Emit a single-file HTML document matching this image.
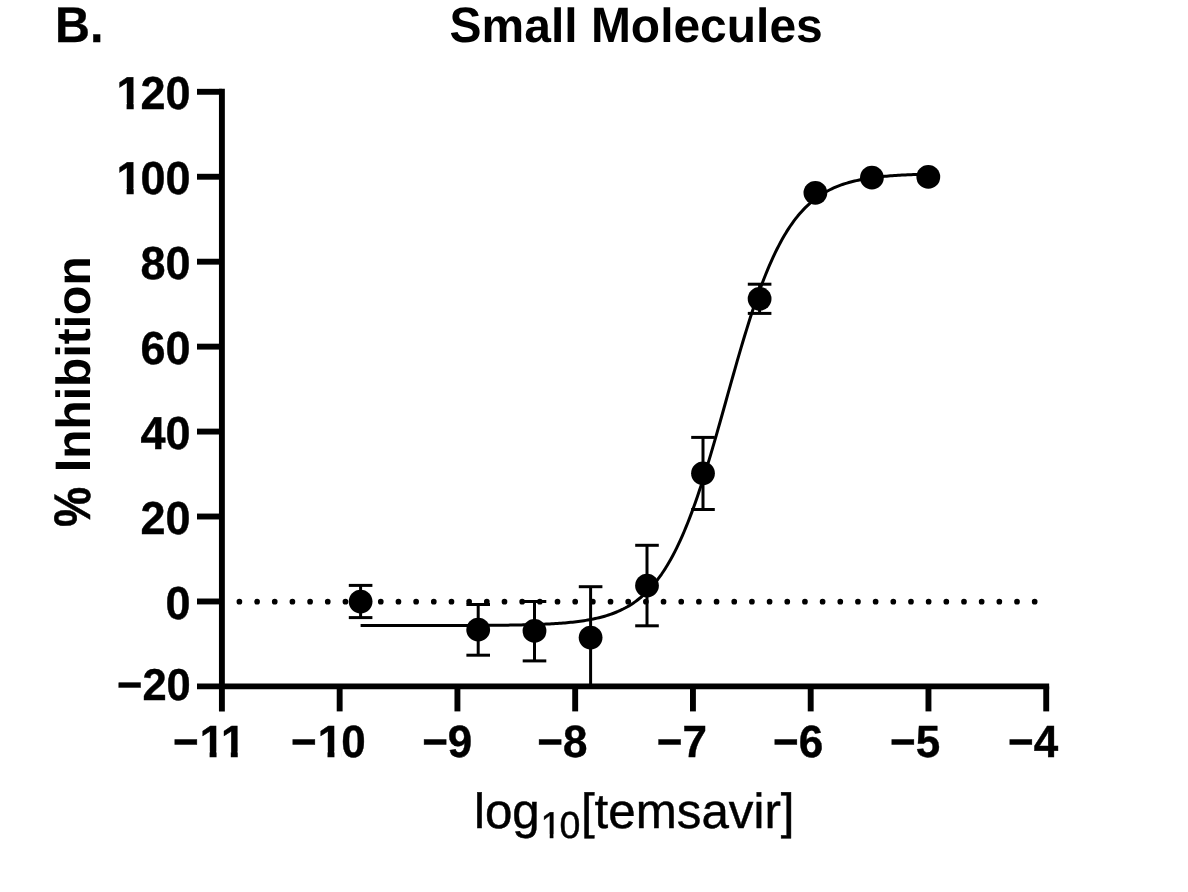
<!DOCTYPE html>
<html><head><meta charset="utf-8"><title>Small Molecules</title>
<style>
html,body{margin:0;padding:0;background:#fff;}
body{width:1188px;height:892px;overflow:hidden;}
svg{display:block;will-change:transform;}
text{font-family:"Liberation Sans",sans-serif;fill:#000;text-rendering:geometricPrecision;}
.b{font-weight:bold;}
</style></head><body>
<svg width="1188" height="892" viewBox="0 0 1188 892">
<rect width="1188" height="892" fill="#fff"/>
<text class="b" transform="translate(55.06,41.8) scale(1,1.04)" font-size="48.40" stroke="#000" stroke-width="0.3">B.</text>
<g aria-label="Small Molecules">
<text class="b" transform="translate(449.62,41.80) scale(1,1.040)" font-size="47.96">S</text>
<text class="b" transform="translate(481.61,41.80)" font-size="47.96">mall&#160;</text>
<text class="b" transform="translate(590.89,41.80) scale(1,1.040)" font-size="47.96">M</text>
<text class="b" transform="translate(630.84,41.80)" font-size="47.96">olecules</text>
</g>
<text class="b" transform="translate(90.1,526.92) rotate(-90) scale(0.94,1.07)" font-size="48.01" stroke="#000" stroke-width="0.5">%</text>
<g aria-label="Inhibition">
<text class="b" transform="translate(89.90,472.21) rotate(-90) scale(1,1.040)" font-size="48.01">I</text>
<text class="b" transform="translate(89.90,458.87) rotate(-90)" font-size="48.01">nhibition</text>
</g>
<text x="473.98" y="828.10" font-size="49.30" stroke="#000" stroke-width="0.45">log<tspan font-size="37.50" x="540.49 559.61" dy="10.0">10</tspan><tspan x="580.89" dy="-10.0">[temsavir]</tspan></text>
<g stroke="#000" stroke-width="5.90" fill="none" stroke-linecap="butt">
<path d="M221.90 88.85 V711.40"/>
<path d="M197.00 686.40 H1049.17"/>
<path d="M197.00 601.46 H221.90"/>
<path d="M197.00 516.51 H221.90"/>
<path d="M197.00 431.57 H221.90"/>
<path d="M197.00 346.63 H221.90"/>
<path d="M197.00 261.69 H221.90"/>
<path d="M197.00 176.74 H221.90"/>
<path d="M197.00 91.80 H221.90"/>
<path d="M339.66 686.40 V711.40"/>
<path d="M457.42 686.40 V711.40"/>
<path d="M575.18 686.40 V711.40"/>
<path d="M692.94 686.40 V711.40"/>
<path d="M810.70 686.40 V711.40"/>
<path d="M928.46 686.40 V711.40"/>
<path d="M1046.22 686.40 V711.40"/>
</g>
<text class="b" transform="translate(0,700.30) scale(1,1.025)" x="116.99 142.40 166.59" y="0" font-size="43.50" stroke="#000" stroke-width="0.4">−20</text>
<text class="b" transform="translate(0,618.76) scale(1,1.025)" x="165.57" y="0" font-size="45.00" stroke="#000" stroke-width="0.4">0</text>
<text class="b" transform="translate(0,533.81) scale(1,1.025)" x="140.55 165.57" y="0" font-size="45.00" stroke="#000" stroke-width="0.4">20</text>
<text class="b" transform="translate(0,448.87) scale(1,1.025)" x="140.55 165.57" y="0" font-size="45.00" stroke="#000" stroke-width="0.4">40</text>
<text class="b" transform="translate(0,363.93) scale(1,1.025)" x="140.55 165.57" y="0" font-size="45.00" stroke="#000" stroke-width="0.4">60</text>
<text class="b" transform="translate(0,278.99) scale(1,1.025)" x="140.55 165.57" y="0" font-size="45.00" stroke="#000" stroke-width="0.4">80</text>
<text class="b" transform="translate(0,194.04) scale(1,1.025)" x="116.55 140.55 165.57" y="0" font-size="45.00" stroke="#000" stroke-width="0.4">100</text>
<text class="b" transform="translate(0,109.10) scale(1,1.025)" x="116.55 140.55 165.57" y="0" font-size="45.00" stroke="#000" stroke-width="0.4">120</text>
<text class="b" transform="translate(0,757.10) scale(1,1.025)" x="173.07 199.78 220.98" y="0" font-size="44.00" stroke="#000" stroke-width="0.4">−11</text>
<text class="b" transform="translate(0,757.10) scale(1,1.025)" x="290.97 317.68 341.14" y="0" font-size="44.00" stroke="#000" stroke-width="0.4">−10</text>
<text class="b" transform="translate(0,757.10) scale(1,1.025)" x="422.17 447.87" y="0" font-size="44.00" stroke="#000" stroke-width="0.4">−9</text>
<text class="b" transform="translate(0,757.10) scale(1,1.025)" x="537.37 563.07" y="0" font-size="44.00" stroke="#000" stroke-width="0.4">−8</text>
<text class="b" transform="translate(0,757.10) scale(1,1.025)" x="656.77 682.47" y="0" font-size="44.00" stroke="#000" stroke-width="0.4">−7</text>
<text class="b" transform="translate(0,757.10) scale(1,1.025)" x="773.07 798.77" y="0" font-size="44.00" stroke="#000" stroke-width="0.4">−6</text>
<text class="b" transform="translate(0,757.10) scale(1,1.025)" x="890.07 915.77" y="0" font-size="44.00" stroke="#000" stroke-width="0.4">−5</text>
<text class="b" transform="translate(0,757.10) scale(1,1.025)" x="1008.07 1033.77" y="0" font-size="44.00" stroke="#000" stroke-width="0.4">−4</text>
<rect x="542.45" y="834.50" width="7.27" height="4.60" fill="#fff"/><rect x="553.44" y="834.50" width="6.98" height="4.60" fill="#fff"/><rect x="118.49" y="188.04" width="8.12" height="7.01" fill="#fff"/><rect x="133.68" y="188.04" width="7.55" height="7.01" fill="#fff"/><rect x="118.49" y="103.09" width="8.12" height="7.01" fill="#fff"/><rect x="133.68" y="103.09" width="7.55" height="7.01" fill="#fff"/><rect x="201.65" y="751.20" width="7.95" height="6.90" fill="#fff"/><rect x="216.54" y="751.20" width="7.39" height="6.90" fill="#fff"/><rect x="222.86" y="751.20" width="7.95" height="6.90" fill="#fff"/><rect x="237.74" y="751.20" width="7.39" height="6.90" fill="#fff"/><rect x="319.55" y="751.20" width="7.95" height="6.90" fill="#fff"/><rect x="334.44" y="751.20" width="7.39" height="6.90" fill="#fff"/>
<path d="M239.4 601.66 H1036" stroke="#000" stroke-width="5.7" stroke-linecap="round" stroke-dasharray="0 17.673" fill="none"/>
<path d="M360.60 625.58 L362.49 625.58 L364.38 625.58 L366.28 625.58 L368.17 625.58 L370.06 625.58 L371.95 625.57 L373.85 625.57 L375.74 625.57 L377.63 625.57 L379.52 625.57 L381.42 625.57 L383.31 625.57 L385.20 625.57 L387.09 625.57 L388.99 625.57 L390.88 625.57 L392.77 625.57 L394.66 625.57 L396.55 625.57 L398.45 625.57 L400.34 625.57 L402.23 625.57 L404.12 625.56 L406.02 625.56 L407.91 625.56 L409.80 625.56 L411.69 625.56 L413.59 625.56 L415.48 625.56 L417.37 625.56 L419.26 625.55 L421.15 625.55 L423.05 625.55 L424.94 625.55 L426.83 625.55 L428.72 625.54 L430.62 625.54 L432.51 625.54 L434.40 625.54 L436.29 625.53 L438.19 625.53 L440.08 625.53 L441.97 625.53 L443.86 625.52 L445.75 625.52 L447.65 625.51 L449.54 625.51 L451.43 625.51 L453.32 625.50 L455.22 625.50 L457.11 625.49 L459.00 625.49 L460.89 625.48 L462.79 625.47 L464.68 625.47 L466.57 625.46 L468.46 625.45 L470.36 625.45 L472.25 625.44 L474.14 625.43 L476.03 625.42 L477.92 625.41 L479.82 625.40 L481.71 625.39 L483.60 625.37 L485.49 625.36 L487.39 625.35 L489.28 625.33 L491.17 625.32 L493.06 625.30 L494.96 625.28 L496.85 625.27 L498.74 625.25 L500.63 625.23 L502.53 625.20 L504.42 625.18 L506.31 625.16 L508.20 625.13 L510.09 625.10 L511.99 625.07 L513.88 625.04 L515.77 625.01 L517.66 624.97 L519.56 624.94 L521.45 624.90 L523.34 624.85 L525.23 624.81 L527.13 624.76 L529.02 624.71 L530.91 624.66 L532.80 624.60 L534.69 624.54 L536.59 624.48 L538.48 624.41 L540.37 624.34 L542.26 624.26 L544.16 624.18 L546.05 624.09 L547.94 624.00 L549.83 623.90 L551.73 623.80 L553.62 623.69 L555.51 623.57 L557.40 623.45 L559.30 623.32 L561.19 623.18 L563.08 623.03 L564.97 622.88 L566.86 622.71 L568.76 622.53 L570.65 622.35 L572.54 622.15 L574.43 621.94 L576.33 621.71 L578.22 621.48 L580.11 621.23 L582.00 620.96 L583.90 620.68 L585.79 620.38 L587.68 620.06 L589.57 619.72 L591.46 619.37 L593.36 618.99 L595.25 618.59 L597.14 618.16 L599.03 617.71 L600.93 617.24 L602.82 616.73 L604.71 616.20 L606.60 615.63 L608.50 615.03 L610.39 614.39 L612.28 613.72 L614.17 613.01 L616.07 612.25 L617.96 611.46 L619.85 610.61 L621.74 609.72 L623.63 608.78 L625.53 607.78 L627.42 606.73 L629.31 605.61 L631.20 604.44 L633.10 603.19 L634.99 601.88 L636.88 600.50 L638.77 599.04 L640.67 597.51 L642.56 595.89 L644.45 594.18 L646.34 592.38 L648.23 590.49 L650.13 588.50 L652.02 586.41 L653.91 584.21 L655.80 581.90 L657.70 579.48 L659.59 576.93 L661.48 574.27 L663.37 571.48 L665.27 568.56 L667.16 565.50 L669.05 562.31 L670.94 558.98 L672.84 555.50 L674.73 551.88 L676.62 548.11 L678.51 544.18 L680.40 540.10 L682.30 535.87 L684.19 531.48 L686.08 526.94 L687.97 522.24 L689.87 517.38 L691.76 512.37 L693.65 507.21 L695.54 501.89 L697.44 496.43 L699.33 490.83 L701.22 485.10 L703.11 479.23 L705.00 473.23 L706.90 467.12 L708.79 460.89 L710.68 454.57 L712.57 448.15 L714.47 441.64 L716.36 435.07 L718.25 428.43 L720.14 421.74 L722.04 415.01 L723.93 408.25 L725.82 401.48 L727.71 394.70 L729.61 387.94 L731.50 381.19 L733.39 374.48 L735.28 367.81 L737.17 361.19 L739.07 354.64 L740.96 348.17 L742.85 341.79 L744.74 335.50 L746.64 329.32 L748.53 323.26 L750.42 317.31 L752.31 311.49 L754.21 305.81 L756.10 300.27 L757.99 294.87 L759.88 289.61 L761.77 284.51 L763.67 279.56 L765.56 274.77 L767.45 270.13 L769.34 265.65 L771.24 261.32 L773.13 257.15 L775.02 253.14 L776.91 249.28 L778.81 245.56 L780.70 242.00 L782.59 238.58 L784.48 235.31 L786.37 232.17 L788.27 229.17 L790.16 226.30 L792.05 223.56 L793.94 220.95 L795.84 218.46 L797.73 216.08 L799.62 213.82 L801.51 211.66 L803.41 209.61 L805.30 207.66 L807.19 205.81 L809.08 204.05 L810.98 202.37 L812.87 200.79 L814.76 199.28 L816.65 197.86 L818.54 196.50 L820.44 195.22 L822.33 194.01 L824.22 192.86 L826.11 191.77 L828.01 190.74 L829.90 189.76 L831.79 188.84 L833.68 187.97 L835.58 187.14 L837.47 186.36 L839.36 185.63 L841.25 184.93 L843.14 184.27 L845.04 183.65 L846.93 183.06 L848.82 182.51 L850.71 181.99 L852.61 181.49 L854.50 181.03 L856.39 180.59 L858.28 180.17 L860.18 179.78 L862.07 179.41 L863.96 179.06 L865.85 178.73 L867.75 178.42 L869.64 178.13 L871.53 177.86 L873.42 177.60 L875.31 177.35 L877.21 177.12 L879.10 176.90 L880.99 176.70 L882.88 176.50 L884.78 176.32 L886.67 176.15 L888.56 175.99 L890.45 175.83 L892.35 175.69 L894.24 175.55 L896.13 175.43 L898.02 175.31 L899.91 175.19 L901.81 175.08 L903.70 174.98 L905.59 174.89 L907.48 174.80 L909.38 174.71 L911.27 174.64 L913.16 174.56 L915.05 174.49 L916.95 174.42 L918.84 174.36 L920.73 174.30 L922.62 174.25 L924.52 174.19 L926.41 174.14 L928.30 174.10" stroke="#000" stroke-width="3.00" fill="none" stroke-linejoin="round"/>
<g stroke="#000" stroke-width="3.00" fill="none">
<path d="M360.60 585.40 V617.60"/><path d="M348.80 585.40 H372.40"/><path d="M348.80 617.60 H372.40"/>
<path d="M478.20 604.50 V655.20"/><path d="M466.40 604.50 H490.00"/><path d="M466.40 655.20 H490.00"/>
<path d="M534.50 601.50 V660.90"/><path d="M522.70 601.50 H546.30"/><path d="M522.70 660.90 H546.30"/>
<path d="M590.60 586.70 V686.40"/><path d="M578.80 586.70 H602.40"/>
<path d="M647.00 545.30 V625.80"/><path d="M635.20 545.30 H658.80"/><path d="M635.20 625.80 H658.80"/>
<path d="M703.00 437.40 V509.50"/><path d="M691.20 437.40 H714.80"/><path d="M691.20 509.50 H714.80"/>
<path d="M759.60 284.20 V313.40"/><path d="M747.80 284.20 H771.40"/><path d="M747.80 313.40 H771.40"/>
</g>
<circle cx="360.60" cy="601.60" r="11.90" fill="#000"/>
<circle cx="478.20" cy="629.70" r="11.90" fill="#000"/>
<circle cx="534.50" cy="630.90" r="11.90" fill="#000"/>
<circle cx="590.60" cy="637.60" r="11.90" fill="#000"/>
<circle cx="647.00" cy="585.60" r="11.90" fill="#000"/>
<circle cx="703.00" cy="473.30" r="11.90" fill="#000"/>
<circle cx="759.60" cy="298.80" r="11.90" fill="#000"/>
<circle cx="815.40" cy="192.80" r="11.90" fill="#000"/>
<circle cx="871.90" cy="177.70" r="11.90" fill="#000"/>
<circle cx="928.30" cy="176.90" r="11.90" fill="#000"/>
</svg>
</body></html>
